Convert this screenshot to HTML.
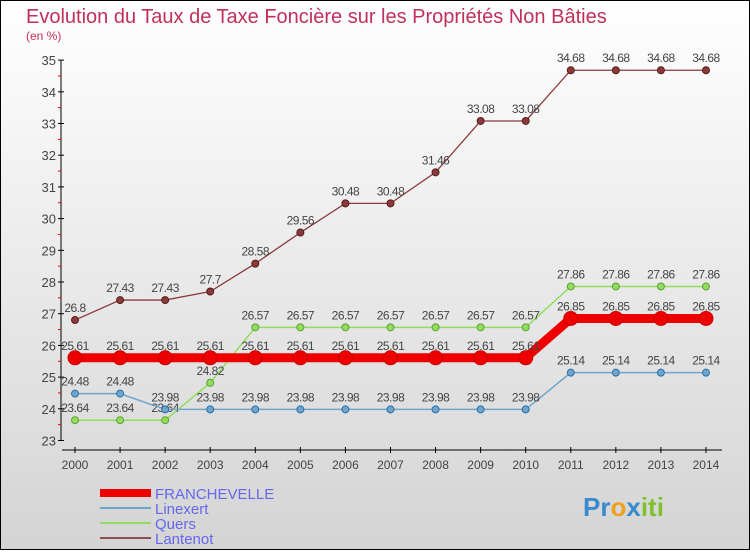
<!DOCTYPE html>
<html><head><meta charset="utf-8"><style>
body{margin:0;width:750px;height:550px;overflow:hidden;font-family:"Liberation Sans",sans-serif}
</style></head><body>
<svg id="c" width="750" height="550" xmlns="http://www.w3.org/2000/svg">
<defs><linearGradient id="bg" x1="0" y1="0" x2="0" y2="1"><stop offset="0" stop-color="#ffffff"/><stop offset="1" stop-color="#d4d4d4"/></linearGradient></defs>
<rect x="0.5" y="0.5" width="749" height="549" fill="url(#bg)" stroke="#000"/>
<text x="26" y="23" font-size="20" fill="#c0305a">Evolution du Taux de Taxe Foncière sur les Propriétés Non Bâties</text>
<text x="26" y="40" font-size="12" fill="#c0305a">(en %)</text>
<g id="axes"></g><g id="series"></g>
<g>
<rect x="100" y="489" width="51" height="8" fill="#e00"/>
<text x="155" y="499" font-size="15" fill="#6666ee">FRANCHEVELLE</text>
<line x1="100" y1="508" x2="151" y2="508" stroke="#6fa4cc" stroke-width="2"/>
<text x="155" y="514" font-size="15" fill="#6666ee">Linexert</text>
<line x1="100" y1="523" x2="151" y2="523" stroke="#90dd60" stroke-width="2"/>
<text x="155" y="529" font-size="15" fill="#6666ee">Quers</text>
<line x1="100" y1="538" x2="151" y2="538" stroke="#8a5050" stroke-width="2"/>
<text x="155" y="544" font-size="15" fill="#6666ee">Lantenot</text>
</g>
<text x="583" y="516" font-size="26" font-weight="bold"><tspan fill="#3a8ad0">Pr</tspan><tspan fill="#f0a020">o</tspan><tspan fill="#3a8ad0">x</tspan><tspan fill="#80c030">iti</tspan></text>
</svg>
<script>
const years=[2000,2001,2002,2003,2004,2005,2006,2007,2008,2009,2010,2011,2012,2013,2014];
const franchevelle=[25.61,25.61,25.61,25.61,25.61,25.61,25.61,25.61,25.61,25.61,25.61,26.85,26.85,26.85,26.85];
const linexert=[24.48,24.48,23.98,23.98,23.98,23.98,23.98,23.98,23.98,23.98,23.98,25.14,25.14,25.14,25.14];
const quers=[23.64,23.64,23.64,24.82,26.57,26.57,26.57,26.57,26.57,26.57,26.57,27.86,27.86,27.86,27.86];
const lantenot=[26.8,27.43,27.43,27.7,28.58,29.56,30.48,30.48,31.46,33.08,33.08,34.68,34.68,34.68,34.68];
const yTicks=[23,24,25,26,27,28,29,30,31,32,33,34,35];
const NS="http://www.w3.org/2000/svg";
const xs=i=>75+i*45.07;
const ys=v=>440.5-(v-23)*31.7;
function mk(tag,attrs,parent){const e=document.createElementNS(NS,tag);for(const k in attrs)e.setAttribute(k,attrs[k]);parent.appendChild(e);return e;}
const axes=document.getElementById('axes'),ser=document.getElementById('series');
let el=mk('line',{x1:61,y1:60,x2:61,y2:440.5,stroke:'#000'},axes);


el=mk('line',{x1:62,y1:450,x2:722,y2:450,stroke:'#000'},axes);


yTicks.forEach(v=>{
 mk('line',{x1:58,y1:ys(v),x2:64,y2:ys(v),stroke:'#000'},axes);
 if(v<35)mk('line',{x1:58,y1:ys(v+0.5),x2:61,y2:ys(v+0.5),stroke:'#e00'},axes);
 const t=mk('text',{x:56,y:ys(v)+5,'font-size':13,fill:'#444','text-anchor':'end'},axes);t.textContent=v;
 
 
});
years.forEach((y,i)=>{
 mk('line',{x1:xs(i),y1:447,x2:xs(i),y2:453,stroke:'#000'},axes);
 const t=mk('text',{x:xs(i),y:469,'font-size':12,fill:'#444','text-anchor':'middle'},axes);t.textContent=y;
 
 
});
function series(data,color,w,r,name,dark){
 const g=mk('g',{},ser);
 
 
 mk('polyline',{points:data.map((v,i)=>xs(i)+','+ys(v)).join(' '),fill:'none',stroke:color,'stroke-width':w},g);
 data.forEach((v,i)=>{
  const c=mk('circle',{cx:xs(i),cy:ys(v),r:r,fill:color,stroke:dark,'stroke-width':1},g);
  
  
  const t=mk('text',{x:xs(i),y:ys(v)-8,'font-size':12,fill:'#444','text-anchor':'middle','letter-spacing':'-0.5'},g);t.textContent=v;
 });
}
series(lantenot,'#8a3a3a',1.3,3.5,'lantenot','#5a1a1a');
series(quers,'#90dd60',1.5,3.5,'quers','#60a030');
series(linexert,'#6fa4cc',1.5,3.5,'linexert','#2a70a8');
series(franchevelle,'#ee0000',9,7,'franchevelle','#cc0000');
</script>
</body></html>
